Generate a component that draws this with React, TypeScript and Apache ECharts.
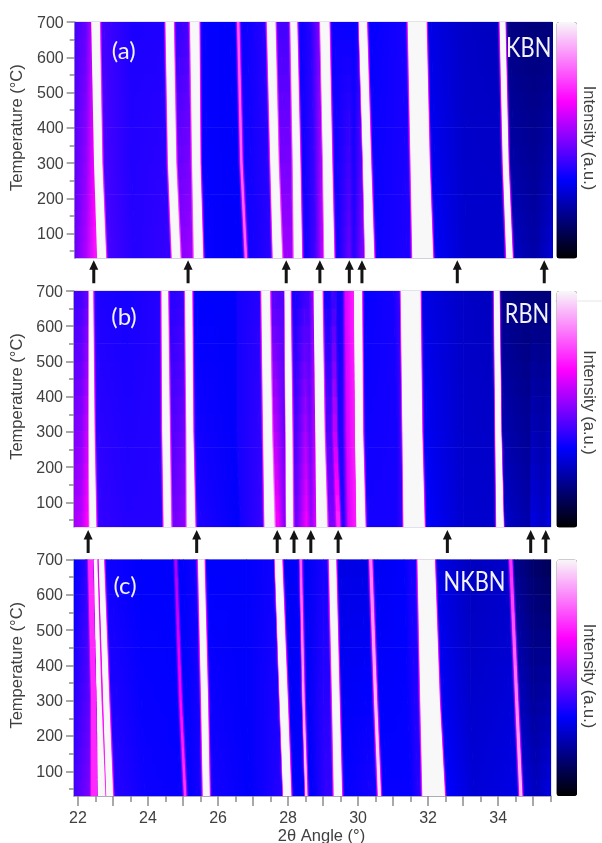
import React, { useEffect, useRef } from "react";
import * as echarts from "echarts";

const ANGLE_MIN = 21.886;
const ANGLE_MAX = 35.51;
const TEMP_MIN = 30;
const TEMP_MAX = 700;
const tempMajor = [100, 200, 300, 400, 500, 600, 700];
const tempMinor = [50, 150, 250, 350, 450, 550, 650];
const angleLabels = [22, 24, 26, 28, 30, 32, 34];
const angleMajor = [22, 23, 24, 25, 26, 27, 28, 29, 30, 31, 32, 33, 34, 35];
const angleMinor = [22.5, 23.5, 24.5, 25.5, 26.5, 27.5, 28.5, 29.5, 30.5, 31.5, 32.5, 33.5, 34.5, 35.5];

// Peak bands: [left@700, right@700, left@300, right@300, left@30, right@30, level@700, level@30]
const kbnPeaks = [
  [22.37, 22.59, 22.45, 22.66, 22.54, 22.77, 1, 1],
  [24.49, 24.70, 24.56, 24.77, 24.67, 24.89, 1, 1],
  [25.19, 25.43, 25.25, 25.46, 25.30, 25.54, 1, 1],
  [26.53, 26.57, 26.62, 26.66, 26.75, 26.79, 0.78, 0.8],
  [27.38, 27.60, 27.48, 27.69, 27.55, 27.79, 1, 1],
  [28.05, 28.22, 28.12, 28.31, 28.15, 28.36, 1, 1],
  [28.90, 29.14, 28.98, 29.22, 29.02, 29.28, 1, 1],
  [30.00, 30.21, 30.12, 30.33, 30.18, 30.42, 1, 1],
  [31.40, 31.91, 31.48, 32.00, 31.53, 32.10, 1, 1],
  [34.02, 34.16, 34.11, 34.25, 34.21, 34.37, 1, 1],
];
const rbnPeaks = [
  [22.32, 22.42, 22.32, 22.46, 22.34, 22.51, 1, 1],
  [24.40, 24.56, 24.42, 24.61, 24.46, 24.65, 1, 1],
  [25.07, 25.25, 25.11, 25.28, 25.12, 25.34, 1, 1],
  [27.25, 27.47, 27.30, 27.53, 27.34, 27.60, 1, 1],
  [27.91, 28.06, 27.94, 28.11, 27.96, 28.13, 1, 1],
  [28.74, 28.97, 28.79, 29.03, 28.82, 29.11, 1, 1],
  [29.26, 29.34, 29.30, 29.38, 29.40, 29.48, 0.4, 0.72],
  [29.89, 30.10, 29.92, 30.13, 29.96, 30.20, 1, 1],
  [31.23, 31.77, 31.28, 31.82, 31.31, 31.89, 1, 1],
  [33.89, 34.03, 33.93, 34.08, 33.96, 34.15, 1, 1],
];
const nkbnPeaks = [
  [22.30, 22.44, 22.39, 22.52, 22.39, 22.57, 0.72, 0.72],
  [22.45, 22.54, 22.54, 22.66, 22.57, 22.77, 1, 1],
  [22.60, 22.73, 22.73, 22.88, 22.82, 22.99, 1, 1],
  [24.77, 24.81, 24.91, 24.95, 25.04, 25.08, 0.55, 0.75],
  [25.44, 25.60, 25.53, 25.70, 25.58, 25.75, 1, 1],
  [27.63, 27.82, 27.77, 27.98, 27.87, 28.08, 1, 1],
  [28.34, 28.38, 28.42, 28.46, 28.50, 28.54, 0.78, 0.95],
  [29.18, 29.36, 29.27, 29.46, 29.32, 29.53, 1, 1],
  [30.33, 30.39, 30.47, 30.53, 30.58, 30.64, 0.82, 0.98],
  [31.71, 32.18, 31.79, 32.32, 31.85, 32.47, 1, 1],
  [34.33, 34.39, 34.50, 34.56, 34.62, 34.68, 0.72, 0.92],
];

// Background levels: [angle@700, angle@300, angle@30, level@700, level@30]
const kbnBackground = [
  [21.886, 21.886, 21.886, 0.42, 0.47],
  [22.2, 22.2, 22.2, 0.46, 0.56],
  [22.33, 22.41, 22.5, 0.55, 0.7],
  [22.72, 22.8, 22.92, 0.42, 0.42],
  [23.5, 23.5, 23.6, 0.37, 0.38],
  [24.3, 24.4, 24.5, 0.37, 0.4],
  [24.85, 24.9, 25.0, 0.4, 0.52],
  [25.1, 25.15, 25.2, 0.42, 0.54],
  [25.6, 25.65, 25.75, 0.34, 0.34],
  [26.3, 26.4, 26.5, 0.33, 0.33],
  [26.8, 26.9, 27, 0.35, 0.36],
  [27.25, 27.35, 27.4, 0.38, 0.38],
  [27.75, 27.85, 27.95, 0.42, 0.54],
  [27.95, 28.02, 28.05, 0.42, 0.54],
  [28.35, 28.45, 28.5, 0.35, 0.36],
  [28.6, 28.7, 28.75, 0.38, 0.42],
  [28.82, 28.9, 28.95, 0.48, 0.58],
  [29.3, 29.37, 29.42, 0.35, 0.36],
  [29.7, 29.72, 29.72, 0.34, 0.47],
  [29.85, 29.85, 29.85, 0.34, 0.38],
  [29.95, 30.05, 30.1, 0.36, 0.5],
  [30.35, 30.45, 30.55, 0.34, 0.35],
  [31.2, 31.3, 31.35, 0.36, 0.37],
  [32.05, 32.15, 32.25, 0.3, 0.32],
  [33, 33, 33.05, 0.26, 0.27],
  [33.9, 34, 34.1, 0.25, 0.27],
  [34.3, 34.4, 34.5, 0.17, 0.25],
  [35, 35, 35, 0.16, 0.22],
  [35.51, 35.51, 35.51, 0.16, 0.28],
];
const rbnBackground = [
  [21.886, 21.886, 21.886, 0.41, 0.55],
  [22.1, 22.1, 22.1, 0.42, 0.58],
  [22.25, 22.25, 22.27, 0.46, 0.68],
  [22.55, 22.6, 22.65, 0.37, 0.4],
  [23.4, 23.4, 23.4, 0.36, 0.38],
  [24.3, 24.3, 24.35, 0.38, 0.38],
  [24.65, 24.72, 24.75, 0.38, 0.48],
  [25, 25.02, 25.05, 0.4, 0.52],
  [25.4, 25.42, 25.5, 0.33, 0.37],
  [26.5, 26.5, 26.6, 0.33, 0.33],
  [26.55, 26.55, 26.65, 0.36, 0.36],
  [27.1, 27.15, 27.2, 0.38, 0.4],
  [27.6, 27.65, 27.72, 0.44, 0.66],
  [27.85, 27.88, 27.9, 0.44, 0.5],
  [28.2, 28.25, 28.25, 0.36, 0.48],
  [28.45, 28.5, 28.53, 0.4, 0.66],
  [28.6, 28.63, 28.66, 0.42, 0.52],
  [28.68, 28.75, 28.78, 0.5, 0.62],
  [29.08, 29.13, 29.22, 0.36, 0.5],
  [29.55, 29.55, 29.6, 0.36, 0.38],
  [29.63, 29.68, 29.72, 0.62, 0.62],
  [29.86, 29.9, 29.93, 0.7, 0.7],
  [30.22, 30.25, 30.3, 0.34, 0.36],
  [31, 31.1, 31.1, 0.36, 0.36],
  [31.15, 31.2, 31.22, 0.4, 0.4],
  [31.92, 31.95, 32.03, 0.3, 0.33],
  [33, 33, 33, 0.26, 0.27],
  [33.8, 33.85, 33.88, 0.25, 0.27],
  [34.12, 34.15, 34.25, 0.18, 0.26],
  [34.9, 34.9, 34.9, 0.16, 0.22],
  [34.95, 34.95, 34.95, 0.16, 0.3],
  [35.3, 35.3, 35.3, 0.16, 0.26],
  [35.51, 35.51, 35.51, 0.16, 0.32],
];
const nkbnBackground = [
  [21.886, 21.886, 21.886, 0.33, 0.42],
  [22.2, 22.3, 22.33, 0.38, 0.5],
  [22.57, 22.70, 22.795, 0.62, 0.72],
  [22.95, 23.1, 23.2, 0.35, 0.38],
  [23.8, 23.8, 23.9, 0.33, 0.35],
  [24.68, 24.8, 24.9, 0.33, 0.34],
  [25, 25.1, 25.2, 0.33, 0.34],
  [25.3, 25.42, 25.5, 0.35, 0.36],
  [25.7, 25.8, 25.85, 0.33, 0.36],
  [26.8, 26.8, 26.9, 0.33, 0.33],
  [27.55, 27.7, 27.8, 0.35, 0.38],
  [27.95, 28.1, 28.2, 0.32, 0.33],
  [28.25, 28.35, 28.45, 0.33, 0.33],
  [28.55, 28.6, 28.7, 0.32, 0.33],
  [29, 29, 29.1, 0.36, 0.4],
  [29.5, 29.6, 29.7, 0.3, 0.34],
  [30.1, 30.2, 30.3, 0.3, 0.36],
  [30.55, 30.7, 30.8, 0.32, 0.34],
  [31.3, 31.4, 31.5, 0.33, 0.34],
  [31.5, 31.6, 31.7, 0.36, 0.38],
  [32.3, 32.45, 32.6, 0.3, 0.33],
  [33.2, 33.2, 33.3, 0.25, 0.28],
  [34.2, 34.3, 34.4, 0.26, 0.3],
  [34.55, 34.7, 34.8, 0.18, 0.28],
  [35, 35, 35.1, 0.14, 0.25],
  [35.51, 35.51, 35.51, 0.11, 0.3],
];

// Arrows between the panels (2-theta positions)
const arrowsUnderKbn = [22.43, 25.12, 27.92, 28.88, 29.72, 30.08, 32.8, 35.28];
const arrowsUnderRbn = [22.29, 25.39, 27.69, 28.17, 28.65, 29.43, 32.55, 34.93, 35.36];

const PALETTE = ["#000000", "#0000ff", "#ff00ff", "#f8f8f8"];
const FONT = "Liberation Sans";
const INK = "#404040";
const TICK = "#8c8c8c";

function hexToRgb(h: string) {
  return [1, 3, 5].map((i) => parseInt(h.slice(i, i + 2), 16));
}
function colorOf(level: number) {
  const t = Math.max(0, Math.min(1, level)) * (PALETTE.length - 1);
  const i = Math.min(PALETTE.length - 2, Math.floor(t));
  const a = hexToRgb(PALETTE[i]);
  const b = hexToRgb(PALETTE[i + 1]);
  const f = t - i;
  return `rgb(${a.map((v, k) => Math.round(v + (b[k] - v) * f)).join(",")})`;
}

function buildStops(background: number[][], peaks: number[][]) {
  const out: number[][] = background.map((s) => s.slice());
  peaks.forEach((p, idx) => {
    const [l7, r7, l3, r3, l0, r0, lv7, lv0] = p;
    const before = background.filter((s) => s[1] <= l3).pop() || background[0];
    const after = background.find((s) => s[1] >= r3) || background[background.length - 1];
    const prevEdge = Math.max(before[1], idx > 0 ? peaks[idx - 1][3] : -Infinity);
    const nextEdge = Math.min(after[1], idx < peaks.length - 1 ? peaks[idx + 1][2] : Infinity);
    const gl = Math.max(0, l3 - prevEdge);
    const gr = Math.max(0, nextEdge - r3);
    const side = (e7: number, e3: number, e0: number, off: number, a: number, b: number) => [e7 + off, e3 + off, e0 + off, a, b];
    const rimL = Math.min(0.03, gl * 0.35);
    const fadeL = Math.min(0.07, gl * 0.7);
    const rimR = Math.min(0.03, gr * 0.35);
    const fadeR = Math.min(0.07, gr * 0.7);
    out.push(side(l7, l3, l0, -fadeL, before[3], before[4]));
    out.push(side(l7, l3, l0, -rimL, (lv7 + before[3]) / 2, (lv0 + before[4]) / 2));
    out.push(side(l7, l3, l0, 0, lv7, lv0));
    out.push(side(r7, r3, r0, 0, lv7, lv0));
    out.push(side(r7, r3, r0, rimR, (lv7 + after[3]) / 2, (lv0 + after[4]) / 2));
    out.push(side(r7, r3, r0, fadeR, after[3], after[4]));
  });
  const sorted = out.map((s, i) => ({ s, i })).sort((x, y) => x.s[1] - y.s[1] || x.i - y.i).map((o) => o.s);
  const segs: number[][] = [];
  for (let i = 0; i < sorted.length - 1; i++) segs.push([...sorted[i], ...sorted[i + 1]]);
  return segs;
}

const angleAt = (s: number[], T: number) =>
  T >= 300 ? s[1] + ((s[0] - s[1]) * (T - 300)) / 400 : s[2] + ((s[1] - s[2]) * (T - 30)) / 270;
const levelAt = (s: number[], T: number) => s[4] + ((s[3] - s[4]) * (T - 30)) / 670;

const rowEdges: number[] = [];
for (let i = 0; i < 6; i++) rowEdges.push(30 + i * 45);
for (let i = 0; i <= 8; i++) rowEdges.push(300 + i * 50);

function renderBand(_p: any, api: any) {
  const s0 = [0, 1, 2, 3, 4].map((d) => api.value(d) as number);
  const s1 = [5, 6, 7, 8, 9].map((d) => api.value(d) as number);
  const children: any[] = [];
  for (let r = 0; r < rowEdges.length - 1; r++) {
    const T0 = rowEdges[r];
    const T1 = rowEdges[r + 1];
    const Tm = (T0 + T1) / 2;
    const lb = api.coord([angleAt(s0, T0), T0]);
    const lt = api.coord([angleAt(s0, T1), T1]);
    const rb = api.coord([angleAt(s1, T0), T0]);
    const rt = api.coord([angleAt(s1, T1), T1]);
    if (rb[0] <= lb[0] && rt[0] <= lt[0]) continue;
    const lm = api.coord([angleAt(s0, Tm), Tm]);
    const rm = api.coord([angleAt(s1, Tm), Tm]);
    const slope = (lt[0] - lb[0]) / (lt[1] - lb[1] || -1);
    const norm = Math.sqrt(1 + slope * slope);
    const nx = 1 / norm;
    const ny = -slope / norm;
    const d = Math.max(0.01, (rm[0] - lm[0]) * nx);
    const fill = new echarts.graphic.LinearGradient(
      lm[0],
      lm[1],
      lm[0] + nx * d,
      lm[1] + ny * d,
      [
        { offset: 0, color: colorOf(levelAt(s0, Tm)) },
        { offset: 1, color: colorOf(levelAt(s1, Tm)) },
      ],
      true
    );
    children.push({
      type: "polygon",
      silent: true,
      shape: {
        points: [
          [lb[0], lb[1]],
          [lt[0], lt[1] - 0.6],
          [Math.max(rt[0], lt[0]) + 0.7, rt[1] - 0.6],
          [Math.max(rb[0], lb[0]) + 0.7, rb[1]],
        ],
      },
      style: { fill },
    });
  }
  return { type: "group", children };
}

function renderArrow(gapTop: number) {
  return (_p: any, api: any) => {
    const p = api.coord([api.value(0), TEMP_MIN]);
    const x = p[0];
    const y = p[1] + gapTop;
    return {
      type: "polygon",
      silent: true,
      shape: {
        points: [
          [x, y],
          [x + 4.5, y + 9.5],
          [x + 1.5, y + 9.5],
          [x + 1.5, y + 23],
          [x - 1.5, y + 23],
          [x - 1.5, y + 9.5],
          [x - 4.5, y + 9.5],
        ],
      },
      style: { fill: "#141414" },
    };
  };
}

const grids = [
  { left: 74.7, top: 22, width: 477.6, height: 236.3 },
  { left: 74, top: 291, width: 477, height: 236 },
  { left: 74, top: 559.5, width: 477, height: 236.5 },
];

function tempAxes(gridIndex: number) {
  return [
    {
      type: "value",
      gridIndex,
      min: TEMP_MIN,
      max: TEMP_MAX,
      name: "Temperature (°C)",
      nameLocation: "middle",
      nameGap: 50,
      nameTextStyle: { fontFamily: FONT, fontSize: 16.5, color: INK, padding: [0, 0, 0, 25] },
      axisLine: { show: true, lineStyle: { color: "#9a9aa8", width: 1.5 } },
      splitLine: { show: false },
      axisTick: { show: true, length: 8, customValues: tempMajor, lineStyle: { color: TICK, width: 1.5 } },
      axisLabel: { customValues: tempMajor, margin: 11, fontFamily: FONT, fontSize: 16, color: INK, showMinLabel: true, showMaxLabel: true, hideOverlap: false },
    },
    {
      type: "value",
      gridIndex,
      min: TEMP_MIN,
      max: TEMP_MAX,
      position: "left",
      axisLine: { show: false },
      splitLine: { show: false },
      axisTick: { show: true, length: 5, customValues: tempMinor, lineStyle: { color: TICK, width: 1.5 } },
      axisLabel: { show: false },
    },
  ];
}

const hiddenX = (gridIndex: number) => ({ type: "value", gridIndex, min: ANGLE_MIN, max: ANGLE_MAX, show: false });

function panelText(text: string, x: number, y: number, size: number, scaleX: number) {
  return {
    type: "text",
    x,
    y,
    scaleX,
    silent: true,
    z: 50,
    style: { text, fill: "#f2f2fa", fontFamily: "Lato", fontSize: size, textAlign: "center", textVerticalAlign: "middle" },
  };
}
function intensityText(y: number) {
  return {
    type: "text",
    x: 590,
    y,
    rotation: -Math.PI / 2,
    silent: true,
    style: { text: "Intensity (a.u.)", fill: INK, fontFamily: FONT, fontSize: 16.5, textAlign: "center", textVerticalAlign: "middle" },
  };
}
function colorBar(top: number, seriesIndex: number) {
  return {
    type: "continuous",
    min: 0,
    max: 1,
    left: 556.5,
    top,
    padding: 0,
    itemWidth: 20.5,
    itemHeight: 236.5,
    calculable: false,
    realtime: false,
    seriesIndex,
    dimension: 3,
    inRange: { color: PALETTE },
    outOfRange: { color: PALETTE[0] },
    hoverLink: false,
  };
}

export default function App() {
  const ref = useRef<HTMLDivElement>(null);
  useEffect(() => {
    if (!ref.current) return;
    const chart = echarts.init(ref.current, undefined, { renderer: "svg" });
    const option: any = {
      animation: false,
      backgroundColor: "#ffffff",
      tooltip: { show: false },
      grid: grids.map((g) => ({ ...g, outerBoundsMode: "none", show: true, borderColor: "#c4c4d4", borderWidth: 1, backgroundColor: "transparent" })),
      xAxis: [
        hiddenX(0),
        hiddenX(1),
        {
          type: "value",
          gridIndex: 2,
          min: ANGLE_MIN,
          max: ANGLE_MAX,
          name: "2θ Angle (°)",
          nameLocation: "middle",
          nameGap: 30,
          nameTextStyle: { fontFamily: FONT, fontSize: 16.5, color: INK, padding: [0, 0, 0, 18] },
          axisLine: { show: true, lineStyle: { color: "#9a9aa8", width: 1.5 } },
          splitLine: { show: false },
          axisTick: { show: true, length: 10, customValues: angleMajor, lineStyle: { color: TICK, width: 1.5 } },
          axisLabel: { customValues: angleLabels, margin: 13, fontFamily: FONT, fontSize: 16, color: INK },
        },
        {
          type: "value",
          gridIndex: 2,
          min: ANGLE_MIN,
          max: ANGLE_MAX,
          position: "bottom",
          axisLine: { show: false },
          splitLine: { show: false },
          axisTick: { show: true, length: 6, customValues: angleMinor, lineStyle: { color: TICK, width: 1.5 } },
          axisLabel: { show: false },
        },
      ],
      yAxis: [...tempAxes(0), ...tempAxes(1), ...tempAxes(2)],
      visualMap: [colorBar(22, 0), colorBar(291, 1), colorBar(559.5, 2)],
      series: [
        { type: "custom", coordinateSystem: "cartesian2d", xAxisIndex: 0, yAxisIndex: 0, clip: true, renderItem: renderBand, data: buildStops(kbnBackground, kbnPeaks) },
        { type: "custom", coordinateSystem: "cartesian2d", xAxisIndex: 1, yAxisIndex: 2, clip: true, renderItem: renderBand, data: buildStops(rbnBackground, rbnPeaks) },
        { type: "custom", coordinateSystem: "cartesian2d", xAxisIndex: 2, yAxisIndex: 4, clip: true, renderItem: renderBand, data: buildStops(nkbnBackground, nkbnPeaks) },
        { type: "custom", coordinateSystem: "cartesian2d", xAxisIndex: 0, yAxisIndex: 0, clip: false, renderItem: renderArrow(2), data: arrowsUnderKbn.map((a) => [a, TEMP_MIN]) },
        { type: "custom", coordinateSystem: "cartesian2d", xAxisIndex: 1, yAxisIndex: 2, clip: false, renderItem: renderArrow(3), data: arrowsUnderRbn.map((a) => [a, TEMP_MIN]) },
      ],
      graphic: [
        panelText("(a)", 123.7, 49.5, 24, 1),
        panelText("KBN", 528.7, 46.7, 26, 0.84),
        panelText("(b)", 124, 315, 24, 1),
        panelText("RBN", 527, 313, 26, 0.84),
        panelText("(c)", 125, 584, 24, 1),
        panelText("NKBN", 474.5, 581, 26, 0.84),
        intensityText(138),
        intensityText(402.5),
        intensityText(676),
        { type: "line", silent: true, shape: { x1: 555, y1: 301, x2: 602, y2: 301 }, style: { stroke: "#e6e6e6", lineWidth: 1 }, z: -1 },
      ],
    };
    chart.setOption(option);
    return () => chart.dispose();
  }, []);
  return <div ref={ref} style={{ position: "absolute", left: 0, top: 0, width: 602, height: 843, filter: "blur(0.5px)" }} />;
}
